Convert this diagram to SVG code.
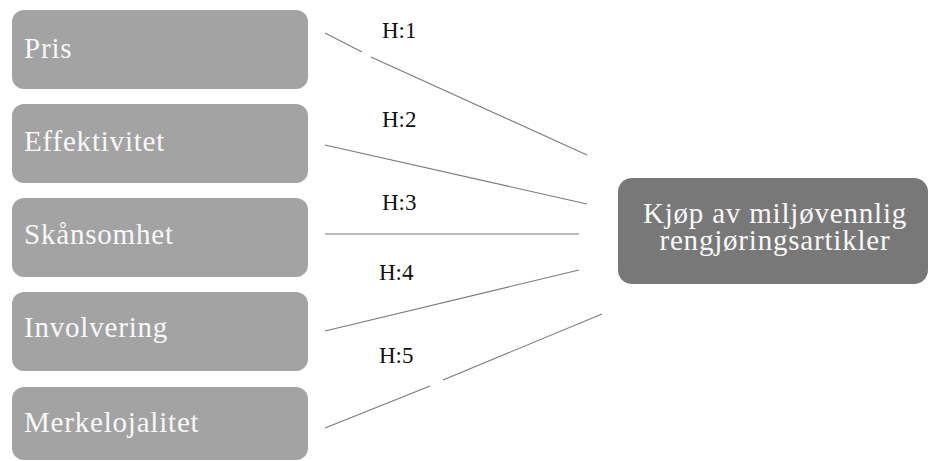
<svg xmlns="http://www.w3.org/2000/svg" width="930" height="461" viewBox="0 0 930 461">
  <style>
    .src rect { fill: #a3a3a3; }
    .dst rect { fill: #787878; }
    .lbl { font-family: "Liberation Serif", "Times New Roman", Times, "DejaVu Serif", serif; font-size: 29px; letter-spacing: 0.8px; fill: #f8f8f8; }
    .hyp { font-family: "Liberation Serif", "Times New Roman", Times, "DejaVu Serif", serif; font-size: 23px; fill: #111; }
    .links path { stroke: #7a7a7a; stroke-width: 1.1; fill: none; }
  </style>
  <rect width="930" height="461" fill="#ffffff"/>

  <!-- independent variables -->
  <g id="pris" class="src">
    <rect x="12" y="10" width="296" height="79" rx="12"/>
    <text class="lbl" x="24" y="58">Pris</text>
  </g>
  <g id="effektivitet" class="src">
    <rect x="12" y="104" width="296" height="79" rx="12"/>
    <text class="lbl" x="24" y="151">Effektivitet</text>
  </g>
  <g id="skansomhet" class="src">
    <rect x="12" y="198" width="296" height="79" rx="12"/>
    <text class="lbl" x="24" y="244">Skånsomhet</text>
  </g>
  <g id="involvering" class="src">
    <rect x="12" y="292" width="296" height="79" rx="12"/>
    <text class="lbl" x="24" y="337">Involvering</text>
  </g>
  <g id="merkelojalitet" class="src">
    <rect x="12" y="387" width="296" height="73" rx="12"/>
    <text class="lbl" x="24" y="432">Merkelojalitet</text>
  </g>

  <!-- dependent variable -->
  <g id="kjop" class="dst">
    <rect x="618" y="178" width="310" height="106" rx="14"/>
    <text class="lbl" x="775" y="223" text-anchor="middle">Kjøp av miljøvennlig</text>
    <text class="lbl" x="775" y="250" text-anchor="middle">rengjøringsartikler</text>
  </g>

  <!-- hypothesis connectors -->
  <g id="connectors" class="links">
    <path d="M325 33 L362 52 M371 57 L587 155"/>
    <path d="M325 145 L587 204"/>
    <path d="M325 234 L579 234"/>
    <path d="M325 331 L579 270"/>
    <path d="M325 428 L430 386 M443 380 L602 314"/>
  </g>

  <!-- hypothesis labels -->
  <g id="labels">
    <text class="hyp" x="382" y="38">H:1</text>
    <text class="hyp" x="382" y="127">H:2</text>
    <text class="hyp" x="382" y="210">H:3</text>
    <text class="hyp" x="379" y="280">H:4</text>
    <text class="hyp" x="379" y="363">H:5</text>
  </g>
</svg>
